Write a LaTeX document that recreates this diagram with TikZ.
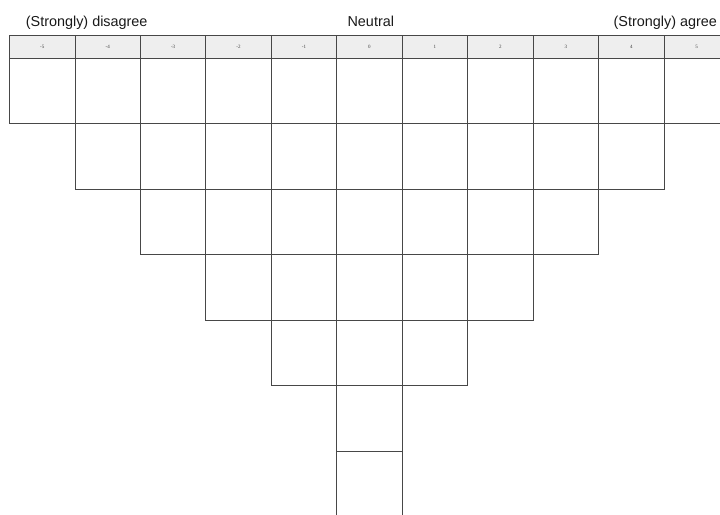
\documentclass[tikz,border=0pt]{standalone}
\usepackage{fontspec}
\setmainfont{Liberation Sans}
\newfontfamily\numfont{Liberation Serif}
\tikzset{
  cellbox/.style={draw=black!72, line width=0.8pt},
  headbox/.style={draw=black!72, line width=0.8pt, fill=gray!13},
  headnum/.style={font=\numfont\fontsize{5}{6}\selectfont, text=black!75, inner sep=0pt},
  toplabel/.style={font=\fontsize{14.4}{17}\selectfont, text=black!90, inner sep=0pt, anchor=base}
}
\begin{document}
\begin{tikzpicture}[x=1pt,y=-1pt]
\useasboundingbox (0,0) rectangle (720,514);
\clip (0,0) rectangle (720,514);
\def\cw{65.45}
\def\xo{9.5}
% header
\foreach \i [evaluate=\i as \v using int(\i-5)] in {0,...,10}{
  \draw[headbox] (\xo+\cw*\i,35.7) rectangle ++(\cw,22.6);
  \node[headnum] (h\i) at (\xo+\cw*\i+\cw/2,47.2) {\v};
}
% grid rows
\foreach \r/\h in {1/5,2/4,3/3,4/2,5/1,6/0,7/0}{
  \foreach \c in {-\h,...,\h}{
    \draw[cellbox] (\xo+\cw*5+\cw*\c,58.3+65.5*\r-65.5) rectangle ++(\cw,65.5);
  }
}
\node[toplabel] (dis) at (86.7,26.5) {(Strongly) disagree};
\node[toplabel] (neu) at (370.8,26.5) {Neutral};
\node[toplabel] (agr) at (665.3,26.5) {(Strongly) agree};
\end{tikzpicture}
\end{document}
